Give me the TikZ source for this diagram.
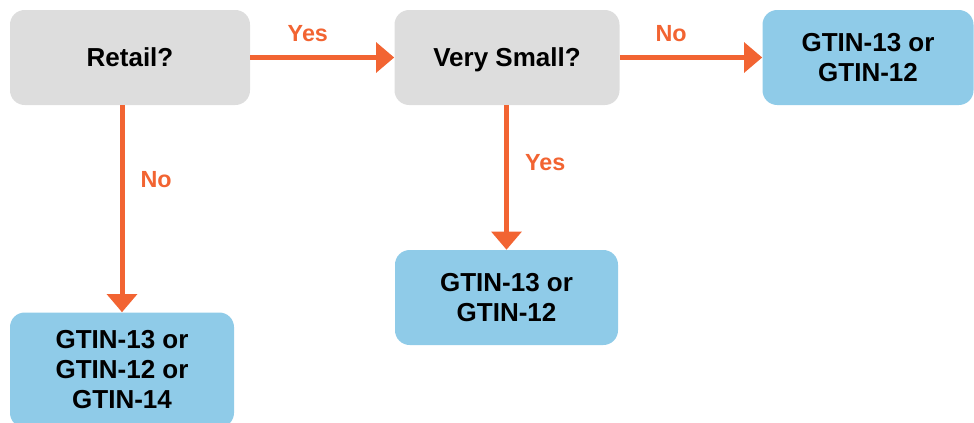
\documentclass[tikz,border=0pt]{standalone}
\usepackage{fontspec}
\setmainfont{Liberation Sans}
\usetikzlibrary{arrows.meta}
\begin{document}
\begin{tikzpicture}[x=0.75pt, y=-0.75pt, >={Triangle[length=13.5pt, width=22pt]}]
        % --- CONFIGURATION ---
        \definecolor{boxGray}{RGB}{221, 221, 221}    % question
        \definecolor{boxBlue}{RGB}{143, 203, 232}    % answer
        \definecolor{flowOrange}{RGB}{242, 100, 50}  % arrows
        \tikzset{
            question/.style={fill=boxGray, rounded corners=11pt, align=center,
                font=\fontsize{19.5}{22.5}\selectfont\bfseries, minimum height=71.25pt},
            answer/.style={question, fill=boxBlue},
            flow/.style={->, flowOrange, line width=3.75pt},
            choice/.style={text=flowOrange, inner sep=0pt,
                font=\fontsize{17.5}{20}\selectfont\bfseries}
        }
        \useasboundingbox (0,0) rectangle (974,422);

        % Questions
        \node[question, minimum width=180pt] (retail) at (130,57.5) {Retail?};
        \node[question, minimum width=168.75pt, text depth=0pt] (small) at (507,57.5) {Very Small?};

        % Answers
        \node[answer, minimum width=158.25pt] (codesA) at (868,57.5) {GTIN-13 or\\GTIN-12};
        \node[answer, minimum width=167.25pt] (codesB) at (506.5,297.5) {GTIN-13 or\\GTIN-12};
        \node[answer, minimum width=168pt, minimum height=86.25pt] (codesC) at (122,370) {GTIN-13 or\\GTIN-12 or\\GTIN-14};

        % Arrows
        \draw[flow] (retail.east) -- (small.west) node[choice, pos=0.4, above=10pt] {Yes};
        \draw[flow] (small.east) -- (codesA.west) node[choice, pos=0.36, above=10pt] {No};
        \draw[flow] (small.south -| codesB.north) -- (codesB.north) node[choice, pos=0.4, right=12pt] {Yes};
        \draw[flow] (retail.south -| codesC.north) -- (codesC.north) node[choice, pos=0.36, right=12pt] {No};

    \end{tikzpicture}
\end{document}
